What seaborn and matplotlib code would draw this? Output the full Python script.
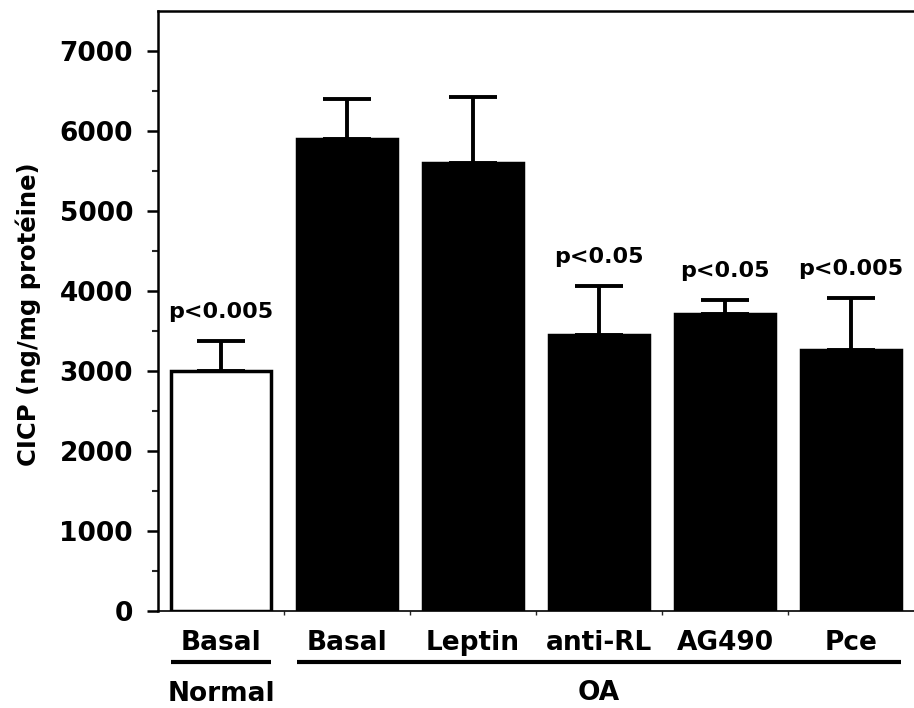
import numpy as np
import pandas as pd
import matplotlib
matplotlib.use("Agg")
import matplotlib.pyplot as plt
import matplotlib.transforms as mtransforms
import seaborn as sns

# CICP content per condition (mean and upper error)
conditions = ["Normal Basal", "OA Basal", "OA Leptin", "OA anti-RL", "OA AG490", "OA Pce"]
tick_labels = ["Basal", "Basal", "Leptin", "anti-RL", "AG490", "Pce"]
groups = ["Normal", "OA", "OA", "OA", "OA", "OA"]
means = [3000, 5900, 5600, 3450, 3710, 3260]
errors = [370, 500, 820, 610, 180, 650]
pvalues = ["p<0.005", "", "", "p<0.05", "p<0.05", "p<0.005"]
y_ticks = [0, 1000, 2000, 3000, 4000, 5000, 6000, 7000]

sns.set_theme(style="ticks")
plt.rcParams["font.family"] = ["DejaVu Sans"]
plt.rcParams["font.weight"] = "bold"

df = pd.DataFrame({"condition": conditions, "group": groups, "value": means})

fig = plt.figure(figsize=(9.14, 7.08), dpi=100)
ax = fig.add_axes([158 / 914, 97 / 708, 756 / 914, 600 / 708])

# error bars (upper half only), drawn beneath the bars
x = np.arange(len(conditions))
ax.errorbar(x, means, yerr=[np.zeros(len(errors)), errors], fmt="none",
            ecolor="black", elinewidth=2.8, capsize=17, capthick=2.8, zorder=0.5)

sns.barplot(data=df, x="condition", y="value", hue="group",
            palette={"Normal": "white", "OA": "black"}, dodge=False,
            width=0.8, linewidth=2.5, edgecolor="black", errorbar=None,
            legend=False, ax=ax, zorder=1)

# significance labels above the error caps
for xi, m, e, p in zip(x, means, errors, pvalues):
    if p:
        ax.text(xi, m + e + 290, p, ha="center", va="baseline",
                fontsize=16, fontweight="bold", color="black")

ax.set_xlim(-0.5, len(conditions) - 0.5)
ax.set_ylim(0, 7500)
ax.set_yticks(y_ticks)
ax.set_yticklabels([str(t) for t in y_ticks])
ax.set_yticks(np.arange(500, 7500, 1000), minor=True)
ax.set_xticks(x)
ax.set_xticklabels(tick_labels)
ax.set_xticks(np.arange(0.5, len(conditions) - 0.5, 1.0), minor=True)

ax.tick_params(axis="y", which="major", length=8, width=1.8, pad=10,
               labelsize=19, colors="black")
ax.tick_params(axis="y", which="minor", length=4, width=1.5)
ax.tick_params(axis="x", which="major", length=0, pad=14, labelsize=19,
               colors="black")
ax.tick_params(axis="x", which="minor", length=3, width=1)
for lab in ax.get_xticklabels() + ax.get_yticklabels():
    lab.set_fontweight("bold")

ax.spines["right"].set_visible(False)
ax.spines["left"].set_linewidth(1.8)
ax.spines["top"].set_linewidth(1.8)
ax.spines["bottom"].set_linewidth(1.2)
for s in ax.spines.values():
    s.set_color("black")

ax.set_xlabel("")
ax.set_ylabel("CICP (ng/mg protéine)", fontsize=17.5, fontweight="bold",
              color="black", va="center")
ax.yaxis.set_label_coords(-0.171, 0.495)

# group brackets under the category labels
trans = mtransforms.blended_transform_factory(ax.transData, ax.transAxes)
ax.plot([-0.4, 0.4], [-0.085, -0.085], color="black", lw=3, transform=trans,
        clip_on=False, solid_capstyle="butt")
ax.plot([0.6, 5.4], [-0.085, -0.085], color="black", lw=3, transform=trans,
        clip_on=False, solid_capstyle="butt")
ax.text(0, -0.138, "Normal", transform=trans, ha="center", va="center",
        fontsize=19, fontweight="bold", color="black")
ax.text(3.0, -0.137, "OA", transform=trans, ha="center", va="center",
        fontsize=19, fontweight="bold", color="black")

fig.savefig("out.png", dpi=100, facecolor="white")
